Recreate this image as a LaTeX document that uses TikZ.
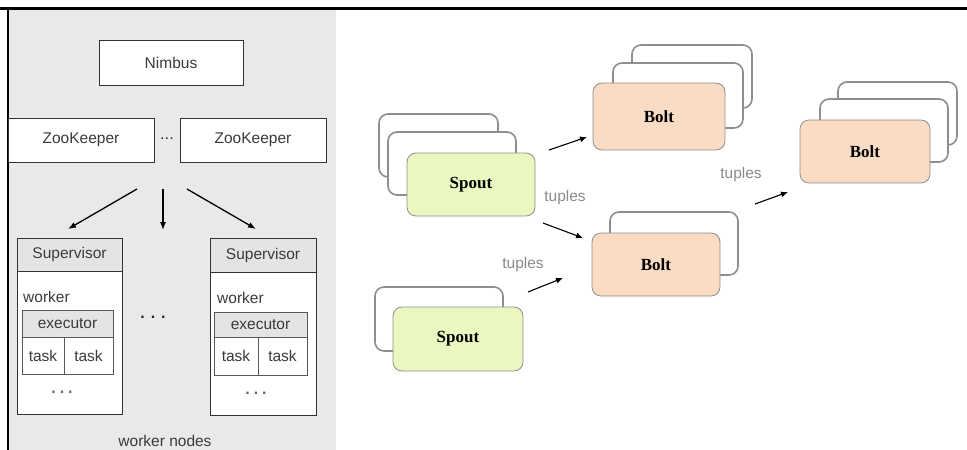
\documentclass[tikz,border=0pt]{standalone}
\usepackage{fontspec}
\setmainfont{Liberation Sans}
\newfontfamily\cardfont{Liberation Serif}
\usetikzlibrary{arrows.meta}
\definecolor{panelgray}{HTML}{E9E9E9}
\definecolor{headgray}{HTML}{E4E4E4}
\definecolor{inktext}{HTML}{3A3A3A}
\definecolor{spoutfill}{HTML}{EBF7C0}
\definecolor{boltfill}{HTML}{FADBC3}
\definecolor{cardline}{HTML}{8E8E8E}
\definecolor{tuplegray}{HTML}{8A8A8A}
\tikzset{
  plain/.style={draw=black!80, line width=0.8pt, fill=white, inner sep=0pt,
    text=inktext, font=\fontsize{15.5}{17}\selectfont},
  graybox/.style={plain, fill=headgray},
  txt/.style={inner sep=0pt, text=inktext, font=\fontsize{15.5}{17}\selectfont},
  dotrow/.style={inner sep=0pt, text=black!85, font=\bfseries\fontsize{16}{17}\selectfont},
  backcard/.style={draw=cardline, line width=1.6pt, fill=white, rounded corners=9pt, inner sep=0pt},
  frontcard/.style={draw=cardline, line width=0.8pt, rounded corners=9pt, inner sep=0pt,
    font=\cardfont\bfseries\fontsize{17}{19}\selectfont},
  spout/.style={frontcard, fill=spoutfill},
  bolt/.style={frontcard, fill=boltfill},
  tuplelbl/.style={inner sep=0pt, text=tuplegray, font=\fontsize{15.5}{17}\selectfont},
  flow/.style={line width=1.3pt, -{Latex[length=8pt,width=6pt]}},
  link/.style={line width=1.1pt, -{Latex[length=7pt,width=6pt]}},
}
\begin{document}
\begin{tikzpicture}[x=1pt,y=-1pt]
\useasboundingbox (0,0) rectangle (967,450);

% left panel: cluster layout
\fill[panelgray] (8,10) rectangle (336,452);
\draw[line width=2pt] (8,9) -- (8,452);
\draw[line width=3pt] (0,8.5) -- (967,8.5);

\node[plain, minimum width=144pt, minimum height=45pt] (nimbus) at (171,62.5) {Nimbus};
\node[plain, minimum width=146pt, minimum height=44pt] (zk1) at (81,140) {ZooKeeper};
\node[plain, minimum width=146pt, minimum height=44pt] (zk2) at (253,140) {ZooKeeper};
\node[dotrow, font=\bfseries\fontsize{11}{12}\selectfont] (zkdots) at (167,139) {.\hspace{1.5pt}.\hspace{1.5pt}.};

\coordinate (fanL) at (137,189);
\coordinate (fanM) at (163,189);
\coordinate (fanR) at (187,189);
\coordinate (toL) at (68,229);
\coordinate (toM) at (163,230);
\coordinate (toR) at (256,229);
\draw[flow] (fanL) -- (toL);
\draw[flow] (fanM) -- (toM);
\draw[flow] (fanR) -- (toR);

% first supervisor
\node[plain, minimum width=105pt, minimum height=176pt] (sup1) at (69.5,326) {};
\node[graybox, minimum width=105pt, minimum height=33pt] (sup1head) at (69.5,254.5) {Supervisor};
\node[txt, anchor=west] (sup1worker) at (23,297) {worker};
\node[graybox, draw=black!65, minimum width=91pt, minimum height=27pt] (sup1exec) at (67.5,323.5) {executor};
\node[plain, draw=black!65, minimum width=42pt, minimum height=37pt] (sup1taskA) at (43,355.5) {task};
\node[plain, draw=black!65, minimum width=49pt, minimum height=37pt] (sup1taskB) at (88.5,355.5) {task};
\node[dotrow, text=black!60] (sup1dots) at (62,392) {.\hspace{4pt}.\hspace{4pt}.};

% second supervisor
\node[plain, minimum width=106pt, minimum height=177pt] (sup2) at (263,326.5) {};
\node[graybox, minimum width=106pt, minimum height=34pt] (sup2head) at (263,255) {Supervisor};
\node[txt, anchor=west] (sup2worker) at (217,298) {worker};
\node[graybox, draw=black!65, minimum width=93pt, minimum height=25pt] (sup2exec) at (260.5,324.5) {executor};
\node[plain, draw=black!65, minimum width=44pt, minimum height=38pt] (sup2taskA) at (236,356) {task};
\node[plain, draw=black!65, minimum width=49pt, minimum height=38pt] (sup2taskB) at (282.5,356) {task};
\node[dotrow, text=black!60] (sup2dots) at (256,393) {.\hspace{4pt}.\hspace{4pt}.};

\node[dotrow] (middots) at (153,317) {.\hspace{6pt}.\hspace{6pt}.};
\node[txt] (nodescap) at (165,441) {worker nodes};

% right side: topology of spouts and bolts
% spout stack 1
\node[backcard, minimum width=119pt, minimum height=63pt] (sp1c) at (438.5,145.5) {};
\node[backcard, minimum width=128pt, minimum height=63pt] (sp1b) at (452,163.5) {};
\node[spout, minimum width=128pt, minimum height=63pt] (sp1) at (471,184.5) {Spout};

% spout stack 2
\node[backcard, minimum width=128pt, minimum height=64pt] (sp2b) at (439,319) {};
\node[spout, minimum width=130pt, minimum height=64pt] (sp2) at (458,339) {Spout};

% bolt stack top
\node[backcard, minimum width=120pt, minimum height=63pt] (bt1c) at (692,76.5) {};
\node[backcard, minimum width=130pt, minimum height=65pt] (bt1b) at (678,95.5) {};
\node[bolt, minimum width=132pt, minimum height=67pt] (bt1) at (659,116.5) {Bolt};

% bolt stack middle
\node[backcard, minimum width=128pt, minimum height=63pt] (bt2b) at (674,243.5) {};
\node[bolt, minimum width=128pt, minimum height=63pt] (bt2) at (656,264.5) {Bolt};

% bolt stack right
\node[backcard, minimum width=119pt, minimum height=63pt] (bt3c) at (897.5,113.5) {};
\node[backcard, minimum width=128pt, minimum height=63pt] (bt3b) at (884,130.5) {};
\node[bolt, minimum width=130pt, minimum height=63pt] (bt3) at (865,151.5) {Bolt};

% tuple streams
\coordinate (s1out) at (549,150);
\coordinate (bt1in) at (587,137);
\coordinate (s1down) at (543,223);
\coordinate (bt2inA) at (583,238);
\coordinate (s2out) at (528,292);
\coordinate (bt2inB) at (563,278);
\coordinate (bt2out) at (755,204);
\coordinate (bt3in) at (788,192);
\draw[link] (s1out) -- (bt1in);
\draw[link] (s1down) -- (bt2inA);
\draw[link] (s2out) -- (bt2inB);
\draw[link] (bt2out) -- (bt3in);

\node[tuplelbl] (tup1) at (565,197) {tuples};
\node[tuplelbl] (tup2) at (523,264) {tuples};
\node[tuplelbl] (tup3) at (741,174) {tuples};
\end{tikzpicture}
\end{document}
